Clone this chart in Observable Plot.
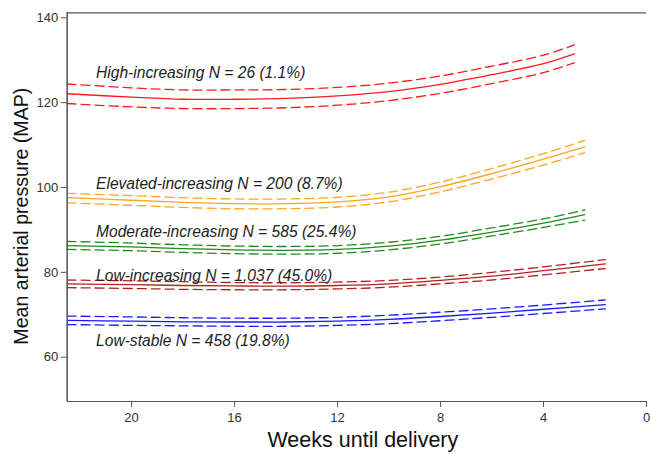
<!DOCTYPE html>
<html>
<head>
<meta charset="utf-8">
<script src="https://cdn.jsdelivr.net/npm/d3@7"></script>
<script src="https://cdn.jsdelivr.net/npm/@observablehq/plot@0.6"></script>
<style>
  html, body { margin: 0; padding: 0; background: #fff; }
  #chart svg { display: block; }
</style>
</head>
<body>
<div id="chart"></div>
<script>
// Weeks until delivery at which values were read
const weeks = [22.5, 20, 18, 16, 14, 12, 10, 8, 6, 4];
const groups = ["High-increasing", "Elevated-increasing", "Moderate-increasing", "Low-increasing", "Low-stable"];
const groupLabels = [
  "High-increasing N = 26 (1.1%)",
  "Elevated-increasing N = 200 (8.7%)",
  "Moderate-increasing N = 585 (25.4%)",
  "Low-increasing N = 1,037 (45.0%)",
  "Low-stable N = 458 (19.8%)"
];
const groupColors = ["#ff1a1a", "#ffa51f", "#1f8a1f", "#b22222", "#1a1aff"];
const endWeek = [2.8, 2.4, 2.4, 1.6, 1.6];
const labelY = [127.0, 100.8, 89.5, 79.1, 63.8];
const labelWeek = 21.38;

// Estimated mean and 95% CI (last value = end week)
const highMean  = [122.1, 121.3, 120.8, 120.8, 121.0, 121.6, 122.6, 124.3, 126.6, 129.2, 131.5];
const highUp    = [124.4, 123.5, 123.0, 123.0, 123.1, 123.6, 124.6, 126.3, 128.6, 131.2, 133.6];
const highLo    = [119.8, 119.0, 118.6, 118.6, 118.8, 119.4, 120.5, 122.2, 124.5, 127.1, 129.4];

const elevMean  = [97.6, 97.0, 96.5, 96.2, 96.2, 96.6, 97.8, 100.2, 103.3, 106.7, 109.6];
const elevUp    = [98.6, 98.1, 97.6, 97.3, 97.3, 97.7, 98.9, 101.3, 104.5, 108.0, 111.1];
const elevLo    = [96.4, 95.8, 95.3, 95.0, 95.0, 95.4, 96.6, 99.0, 102.0, 105.3, 108.2];

const modMean   = [86.3, 86.0, 85.6, 85.3, 85.2, 85.4, 86.2, 87.6, 89.5, 91.6, 93.6];
const modUp     = [87.3, 86.9, 86.5, 86.2, 86.1, 86.3, 87.1, 88.5, 90.5, 92.6, 94.7];
const modLo     = [85.4, 85.1, 84.7, 84.4, 84.3, 84.5, 85.3, 86.7, 88.6, 90.6, 92.3];

const lowIncMean = [77.3, 77.1, 76.9, 76.8, 76.75, 76.9, 77.3, 78.1, 79.1, 80.4, 82.0];
const lowIncUp   = [78.2, 78.0, 77.8, 77.6, 77.55, 77.7, 78.1, 78.9, 80.0, 81.3, 83.0];
const lowIncLo   = [76.4, 76.2, 76.0, 75.9, 75.9, 76.1, 76.5, 77.3, 78.2, 79.4, 80.9];

const stableMean = [68.7, 68.5, 68.35, 68.3, 68.3, 68.5, 68.9, 69.6, 70.4, 71.3, 72.4];
const stableUp   = [69.7, 69.5, 69.3, 69.2, 69.2, 69.4, 69.9, 70.6, 71.4, 72.3, 73.5];
const stableLo   = [67.7, 67.5, 67.4, 67.3, 67.3, 67.5, 67.9, 68.6, 69.4, 70.3, 71.4];

const xTicks = [20, 16, 12, 8, 4, 0];
const yTicks = [60, 80, 100, 120, 140];
const xDomain = [22.5, 0];
const yDomain = [49.56, 141.18];

const series = [
  [highMean, highUp, highLo],
  [elevMean, elevUp, elevLo],
  [modMean, modUp, modLo],
  [lowIncMean, lowIncUp, lowIncLo],
  [stableMean, stableUp, stableLo]
];

const rows = [];
series.forEach((trip, gi) => {
  const wk = weeks.concat([endWeek[gi]]);
  ["mean", "upper", "lower"].forEach((kind, ki) => {
    trip[ki].forEach((v, i) => rows.push({group: groups[gi], kind, key: groups[gi] + "-" + kind, week: wk[i], value: v}));
  });
});
const solid = rows.filter(d => d.kind === "mean");
const dashed = rows.filter(d => d.kind !== "mean");
const labelRows = groups.map((g, i) => ({group: g, text: groupLabels[i], week: labelWeek, value: labelY[i]}));

const font = "'Liberation Sans', Arial, Helvetica, sans-serif";
const axisColor = "#555";

const chart = Plot.plot({
  width: 651,
  height: 454,
  marginLeft: 66.7,
  marginRight: 5,
  marginTop: 12.3,
  marginBottom: 53,
  style: {fontFamily: font, background: "#fff", overflow: "visible"},
  x: {domain: xDomain, axis: null},
  y: {domain: yDomain, axis: null},
  color: {domain: groups, range: groupColors},
  marks: [
    Plot.line(solid, {x: "week", y: "value", z: "key", stroke: "group", strokeWidth: 1.3, curve: "catmull-rom"}),
    Plot.line(dashed, {x: "week", y: "value", z: "key", stroke: "group", strokeWidth: 1.3, strokeDasharray: "9,5", curve: "catmull-rom"}),
    Plot.text(labelRows, {x: "week", y: "value", text: "text", textAnchor: "start", fontSize: 15.6, fontStyle: "italic", fill: "#222"}),
    Plot.ruleX([xDomain[0]], {stroke: axisColor, strokeWidth: 1.2}),
    Plot.ruleY([yDomain[0]], {stroke: axisColor, strokeWidth: 1.2}),
    Plot.ruleY([yDomain[1]], {stroke: axisColor, strokeWidth: 1.2}),
    Plot.axisY(yTicks, {tickSize: 6, tickPadding: 3, fontSize: 13, color: "#333", stroke: axisColor, label: null}),
    Plot.axisX(xTicks, {tickSize: 6, tickPadding: 5, fontSize: 13, color: "#333", stroke: axisColor, label: null}),
    Plot.tickX([xDomain[0]], {y1: yDomain[0], stroke: axisColor}),
    Plot.text(["Mean arterial pressure (MAP)"], {frameAnchor: "left", textAnchor: "middle", lineAnchor: "middle", rotate: -90, dx: -45, dy: 9, fontSize: 19.6, fill: "#111"}),
    Plot.text(["Weeks until delivery"], {frameAnchor: "bottom", textAnchor: "middle", lineAnchor: "middle", dx: 6, dy: 39, fontSize: 21.5, fill: "#111"})
  ]
});
document.getElementById("chart").appendChild(chart);
</script>
</body>
</html>
